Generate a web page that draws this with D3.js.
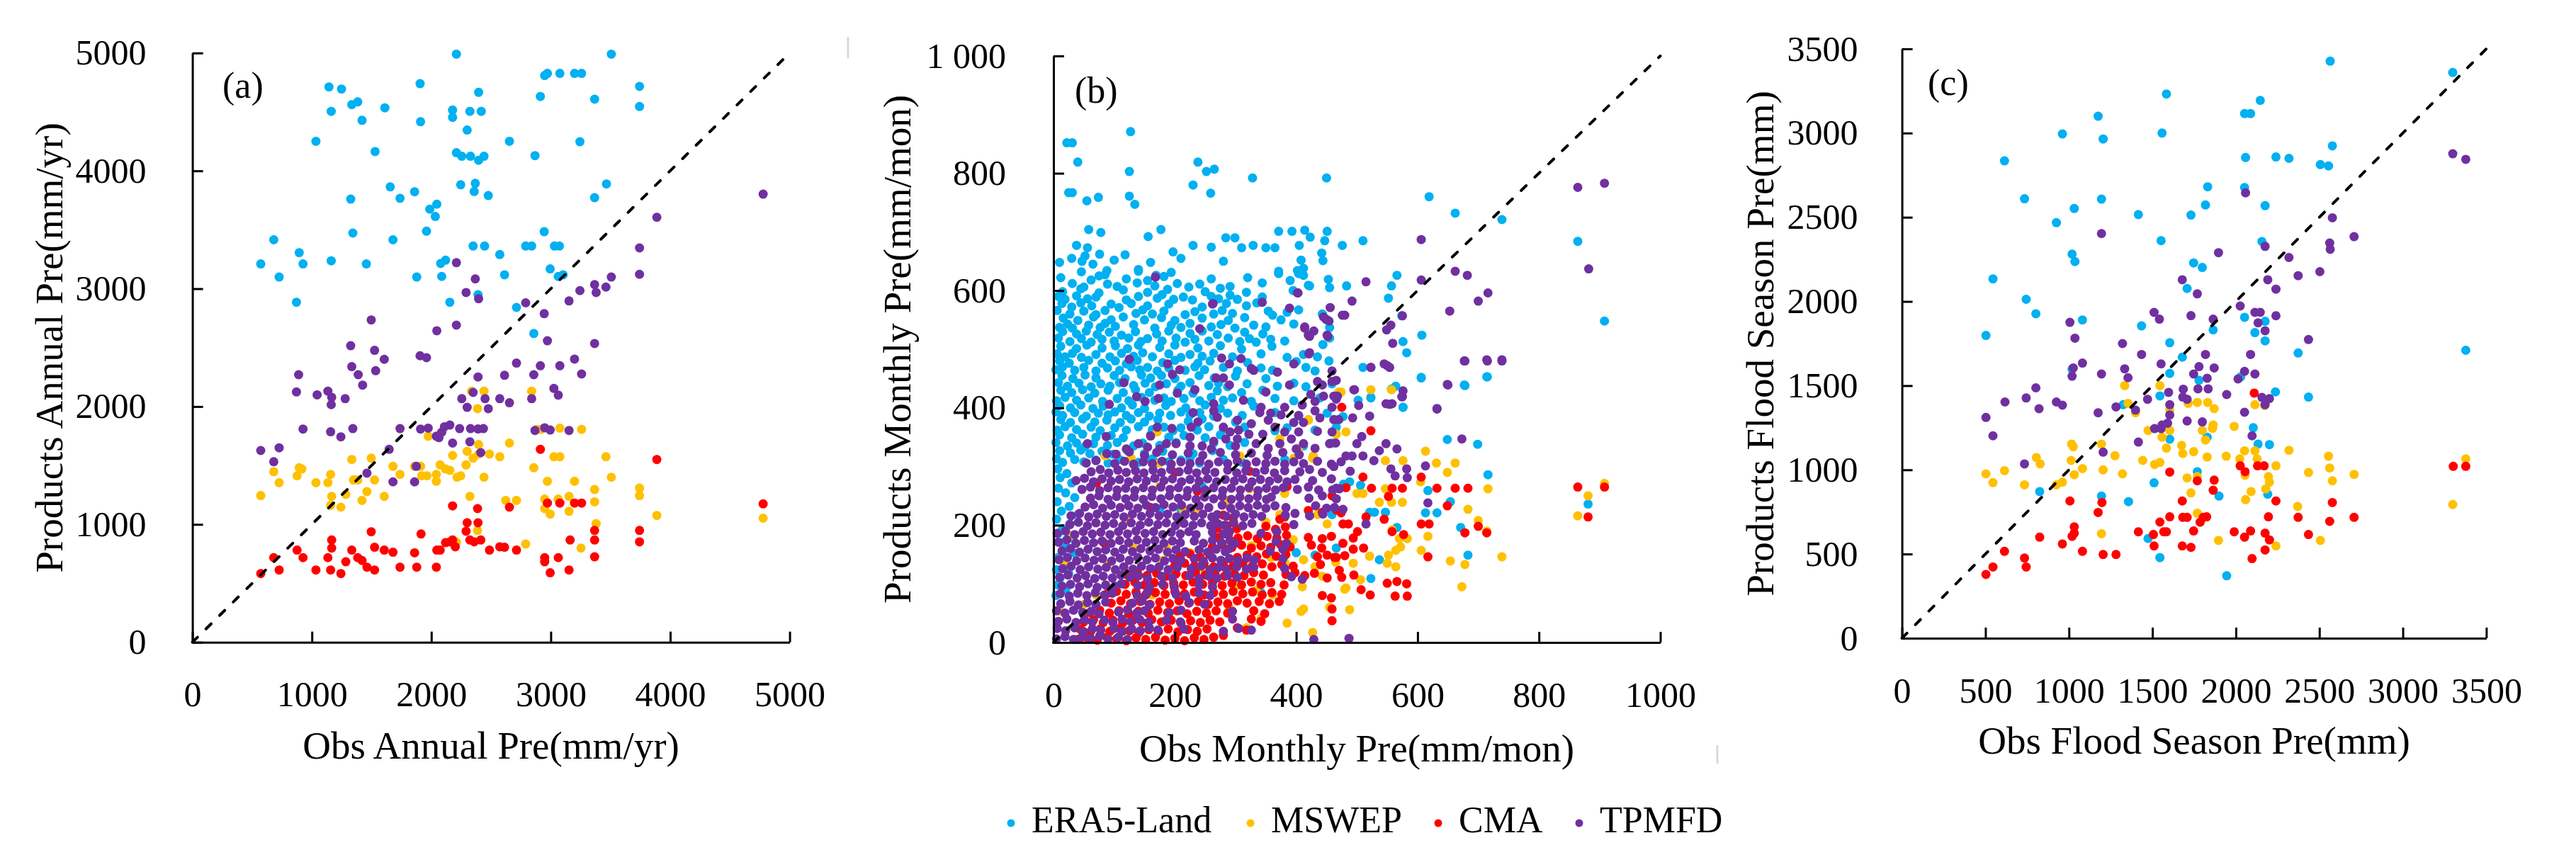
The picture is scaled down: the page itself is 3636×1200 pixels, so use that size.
<!DOCTYPE html>
<html><head><meta charset="utf-8">
<script src="https://cdn.jsdelivr.net/npm/d3@7"></script>
<style>
html,body{margin:0;padding:0;background:#fff;}
svg{display:block;}
text{font-family:"Liberation Serif","Times New Roman",serif;fill:#000;}
</style></head><body>
<svg id="chart" width="3636" height="1200"></svg>
<script>
// ---------- series names / colours ----------
const seriesNames = ["ERA5-Land","MSWEP","CMA","TPMFD"];
const seriesColors = ["#00B0F0","#FFC000","#FF0000","#7030A0"];

// ---------- tick labels ----------
const aTicks = [0,1000,2000,3000,4000,5000];
const bTicks = [0,200,400,600,800,1000];
const bYTickLabels = ["0","200","400","600","800","1 000"];
const bXTickLabels = ["0","200","400","600","800","1000"];
const cTicks = [0,500,1000,1500,2000,2500,3000,3500];

// ---------- panel (a): annual, [obs, product] ----------
const aERA5 = [[2210,4990],[3507,4990],[1143,4712],[1248,4694],[1906,4740],[2949,4809],[2972,4827],[3076,4827],[3199,4827],[3258,4827],[2396,4666],[2913,4631],[3743,4717],[3367,4608],[3743,4546],[1162,4505],[1334,4562],[1384,4585],[1611,4535],[2178,4516],[2178,4454],[2323,4505],[2418,4505],[1420,4429],[1910,4417],[2300,4346],[1034,4251],[2654,4251],[3244,4247],[1529,4164],[2210,4154],[2255,4124],[2328,4124],[2396,4090],[2441,4124],[2868,4129],[1656,3864],[2246,3882],[2368,3894],[2359,3825],[2477,3790],[1860,3823],[1738,3767],[1325,3760],[3466,3889],[3367,3772],[2046,3717],[1987,3675],[2033,3613],[1960,3488],[1343,3472],[2945,3484],[681,3415],[1679,3415],[2350,3362],[2446,3362],[2790,3362],[2840,3362],[3031,3362],[3072,3362],[894,3306],[2573,3290],[572,3210],[926,3210],[1162,3237],[1456,3210],[2078,3214],[2119,3242],[2995,3168],[726,3099],[1878,3099],[2087,3104],[2613,3118],[3063,3104],[3104,3118],[2391,2949],[871,2885],[2155,2885],[2713,2841],[2858,2620]];
const aMSWEP = [[2337,2131],[2441,2131],[2840,2131],[2387,1982],[572,1245],[681,1447],[726,1354],[876,1412],[894,1481],[916,1470],[1034,1354],[1134,1354],[1157,1424],[1166,1238],[1157,1162],[1243,1146],[1284,1255],[1334,1551],[1348,1377],[1384,1377],[1420,1204],[1461,1278],[1497,1562],[1525,1377],[1606,1238],[1679,1493],[1738,1424],[1860,1493],[1910,1493],[1919,1412],[1974,1748],[1964,1412],[2042,1424],[2042,1366],[2074,1505],[2119,1470],[2155,1458],[2178,1585],[2215,1400],[2246,1412],[2291,1505],[2300,1620],[2323,1238],[2350,1562],[2396,1678],[2387,949],[2396,1597],[2441,1400],[2487,1597],[2573,1574],[2654,1690],[2713,1204],[2623,1204],[2790,833],[2858,1481],[2881,1806],[2918,1806],[2949,1215],[2949,1134],[2995,1088],[2972,1366],[3026,1574],[3076,1574],[3063,1215],[3153,1238],[3153,1111],[3199,1366],[3076,1817],[3258,1806],[3253,799],[3367,1296],[3367,1192],[3380,1007],[3462,1574],[3507,1400],[3743,1308],[3743,1245],[3888,1076],[4778,1053],[2210,850]];
const aCMA = [[572,583],[681,718],[726,613],[876,782],[926,718],[1034,613],[1134,718],[1157,613],[1166,868],[1166,799],[1243,583],[1284,683],[1334,782],[1384,718],[1420,694],[1461,637],[1525,613],[1497,938],[1525,806],[1606,782],[1679,764],[1738,637],[1860,759],[1878,637],[1914,919],[2042,637],[2046,782],[2074,782],[2119,845],[2155,852],[2178,868],[2201,810],[2178,1157],[2291,942],[2300,1014],[2323,868],[2359,852],[2387,1134],[2391,1014],[2414,868],[2487,782],[2573,810],[2613,806],[2654,1146],[2713,782],[2913,1637],[2949,718],[2949,683],[2972,1181],[2995,590],[3063,718],[3076,1181],[3153,613],[3162,868],[3199,1181],[3258,1181],[3367,949],[3367,868],[3367,725],[3743,949],[3743,852],[3888,1551],[4778,1174]];
const aTPMFD = [[4778,3802],[3888,3606],[3743,3346],[3743,3122],[2210,3221],[2368,3083],[2396,2915],[2291,2968],[3244,2984],[3367,3035],[3380,2968],[3462,3014],[3507,3099],[3153,2896],[2790,2880],[2945,2788],[1497,2735],[2046,2643],[2210,2691],[2972,2558],[3367,2535],[1325,2516],[1525,2477],[1606,2401],[1906,2431],[1960,2415],[3199,2403],[889,2270],[1334,2339],[1388,2270],[1534,2304],[1425,2182],[2713,2369],[2913,2346],[3076,2346],[3258,2276],[2391,2251],[2613,2265],[2858,2270],[871,2124],[1044,2099],[1134,2131],[1162,2016],[1166,2078],[1279,2067],[2255,2067],[2350,2120],[2450,2067],[2300,1993],[2477,1982],[2573,2067],[2654,2032],[2840,2067],[3026,2154],[3063,2097],[926,1809],[1157,1786],[1343,1813],[1738,1813],[1910,1809],[2155,1843],[2237,1813],[2328,1813],[2436,1813],[2868,1797],[2949,1820],[3153,1797],[572,1627],[726,1650],[681,1532],[1243,1743],[1647,1637],[1461,1435],[1679,1361],[1860,1361],[1874,1493],[1974,1817],[2042,1748],[2064,1736],[2087,1782],[2110,1829],[2178,1690],[2323,1701],[2391,1810],[2414,1609],[2995,1801]];

// ---------- panel (b): monthly, flat lists obs,product,obs,product,... ----------
const bERA5 = [22,852,31,852,40,819,127,871,25,767,31,767,55,753,74,759,125,803,125,761,134,747,238,819,252,803,265,807,230,780,259,766,328,792,450,792,619,760,662,732,739,721,864,684,908,548,58,704,78,699,156,692,177,704,38,677,56,673,197,666,230,677,260,674,284,690,299,690,310,673,350,673,365,673,329,677,371,701,393,701,451,701,414,703,423,691,405,677,476,677,447,685,510,685,52,659,47,650,76,662,118,661,88,634,140,636,442,664,444,651,408,652,412,638,371,633,404,629,566,626,453,619,483,608,422,608,557,608,552,587,574,557,576,513,582,494,607,524,606,452,677,439,715,453,557,432,523,418,576,401,454,480,444,508,451,550,
46,632,85,627,140,633,169,626,194,631,371,629,402,634,412,626,
31,612,50,606,89,611,105,607,138,613,167,608,204,612,223,606,241,611,291,607,344,613,420,609,455,605,
8,590,19,585,38,591,56,586,70,589,120,584,140,590,171,587,179,593,198,585,214,589,229,584,260,590,272,586,291,592,303,585,344,589,
6,566,27,560,50,565,70,559,85,566,136,561,147,567,163,560,182,565,217,559,233,564,264,560,278,566,295,561,354,565,361,558,385,563,404,567,443,560,
10,537,23,543,31,536,58,541,77,537,85,544,102,539,132,542,167,536,194,541,210,537,225,544,260,538,276,542,299,536,330,541,350,538,396,543,455,537,
8,519,27,513,46,518,62,512,80,517,100,514,124,519,144,513,155,518,179,514,202,519,217,512,233,517,256,514,288,519,307,513,323,518,334,512,358,517,381,514,455,519,
6,492,19,487,31,493,46,486,70,491,93,487,112,493,132,488,147,494,163,487,190,492,210,486,225,491,245,488,264,493,295,487,342,492,385,486,412,491,435,487,
4,465,15,470,35,464,50,469,70,463,89,468,109,464,128,470,142,465,155,469,171,463,190,468,217,464,233,470,249,465,280,469,303,463,342,468,361,464,416,469,431,463,
8,443,23,437,42,442,62,436,78,441,93,437,109,443,132,438,151,442,168,436,186,441,210,437,225,443,256,438,272,442,287,436,319,441,369,437,396,442,416,436,459,441,
5,412,19,418,38,413,58,417,81,411,105,416,124,412,145,418,167,413,182,417,194,411,215,416,241,412,260,418,280,413,295,417,326,411,365,416,396,412,439,417,
4,393,15,387,35,392,54,386,74,391,90,388,101,393,120,387,140,392,158,386,175,391,193,387,210,393,225,388,241,392,264,386,287,391,311,387,365,392,404,386,451,391,
6,362,19,368,38,363,62,367,77,361,101,366,120,362,140,368,163,363,182,367,197,361,210,366,237,362,256,368,280,363,315,367,365,361,385,366,431,362,466,367,
4,341,23,335,38,340,52,334,66,339,89,336,105,341,132,335,147,340,175,336,202,341,225,335,264,340,291,336,315,341,412,335,459,340,
5,313,15,307,35,312,50,308,70,311,90,306,109,312,140,307,163,313,190,308,210,311,241,306,280,312,311,307,381,312,
10,648,30,655,65,645,100,652,160,648,210,655,280,650,
12,622,62,618,75,625,120,620,155,617,182,624,260,620,320,622,390,617,
15,598,45,603,75,596,115,601,155,597,188,602,250,598,275,604,318,597,395,600,
14,578,30,572,45,579,63,574,95,577,108,571,128,578,155,574,190,577,245,572,285,578,318,574,335,579,
16,553,40,549,66,555,95,550,115,555,150,550,178,554,200,549,245,553,288,549,315,554,375,550,
15,530,38,526,54,531,72,525,92,529,112,524,135,530,170,526,190,531,225,527,245,531,270,525,315,529,345,526,
12,505,38,501,55,507,80,502,102,506,122,501,140,507,175,503,200,507,238,502,275,506,310,500,360,505,
10,480,26,476,58,481,80,476,102,480,120,475,138,481,180,477,200,481,238,476,258,480,320,477,400,479,
14,455,32,450,52,456,70,451,100,455,118,450,145,456,160,451,178,455,200,450,240,455,265,451,300,454,350,450,
12,430,30,426,48,431,68,425,90,430,115,426,135,431,158,426,205,430,230,425,270,429,310,426,345,430,
10,404,28,400,45,405,65,399,82,403,112,400,130,405,150,399,185,404,218,400,250,405,275,399,330,403,
12,380,28,375,48,381,68,376,88,379,110,375,128,381,150,376,172,380,222,377,245,381,300,376,
10,354,30,349,48,355,70,350,95,353,115,349,160,354,190,350,215,353,250,349,275,354,
10,327,28,323,45,328,60,322,80,326,98,321,122,327,150,322,180,326,230,322,262,327,
7,296,22,288,11,281,30,272,8,263,20,255,35,247,6,240,26,232,13,224,40,218,5,210,27,202,15,194,8,186,32,178,12,170,22,161,35,152,8,145,18,135,5,124,25,118,11,110,7,98,20,90,4,80,
151,314,225,314,171,306,245,266,210,226,175,226,431,149,342,85,400,153,478,270,466,161,
510,469,523,417,564,437,576,401,606,451,649,346,699,338,678,438,714,453,716,286,617,259,654,240,613,221,632,221,671,196,683,149,881,236,521,222,529,222,547,222,566,196,537,141,523,109,477,385,488,274,502,413,506,268,459,218];
const bMSWEP = [85,318,27,182,19,133,11,53,427,17,408,53,482,93,396,314,427,314,323,262,373,218,381,254,435,218,451,202,326,165,358,145,381,137,412,141,431,129,443,113,303,97,334,89,361,81,412,57,385,33,342,41,318,25,225,153,241,137,186,161,272,202,287,242,233,222,120,210,175,266,214,226,132,161,89,133,70,81,50,65,163,81,128,314,175,306,420,379,470,427,466,355,404,331,428,318,171,359,307,318,373,347,523,431,557,431,474,427,420,380,613,326,631,306,662,306,649,290,716,262,547,310,576,310,500,254,510,254,547,262,537,239,557,239,575,239,683,227,700,208,714,190,605,274,617,181,558,192,570,177,583,177,552,149,564,157,572,163,606,157,654,139,678,133,739,146,673,95,521,147,550,135,564,129,480,91,488,56,506,107,494,135,465,137,482,359,908,271,881,250,864,216,300,130,350,205,395,175,290,60,410,95,455,60,250,120,180,140];
const bCMA = [40,5,56,8,72,4,88,9,104,6,120,3,136,8,152,5,168,9,184,4,200,7,216,3,232,8,248,5,264,9,280,12,
45,22,61,18,77,23,93,19,109,24,125,20,141,17,157,22,173,19,189,23,205,18,221,22,237,19,253,23,303,25,318,21,
50,35,66,39,82,34,98,38,114,33,130,37,146,34,162,39,178,35,194,38,210,33,226,37,242,34,258,38,274,35,326,40,342,36,
60,51,76,55,92,50,108,54,124,49,140,53,156,50,172,55,188,51,204,54,220,49,236,53,252,50,268,54,287,50,330,54,348,49,
95,67,111,71,127,66,143,70,159,65,175,69,191,66,207,71,223,67,239,70,255,65,271,69,287,66,303,71,319,67,339,70,356,66,372,70,
88,83,104,87,120,82,136,86,152,81,168,85,184,82,200,87,216,83,232,86,248,81,264,85,280,82,296,87,312,83,328,86,344,81,360,85,376,82,443,80,458,76,
118,99,134,103,150,98,166,102,182,97,198,101,214,98,230,103,246,99,262,102,278,97,294,101,310,98,326,103,342,99,358,102,380,98,
122,115,138,119,154,114,170,118,186,113,202,117,218,114,234,119,250,115,266,118,282,113,298,117,314,114,330,119,346,115,383,116,398,119,414,114,430,118,451,110,
200,131,216,135,232,130,248,134,264,129,280,133,296,130,312,135,328,131,344,134,360,129,376,133,395,130,440,133,
209,147,225,151,241,146,257,150,303,145,319,149,335,146,351,151,367,147,383,150,435,146,451,149,466,145,480,148,
262,163,278,167,294,162,310,166,326,161,342,165,358,162,374,167,390,163,425,166,442,161,
272,179,288,183,304,178,320,182,336,177,352,181,368,178,384,183,420,179,443,177,458,181,
270,195,286,199,302,194,350,198,366,193,382,197,
264,213,280,217,296,212,373,210,381,214,420,225,443,222,466,226,474,221,
71,272,323,292,385,266,459,250,83,170,237,258,200,290,160,230,
523,361,510,282,524,263,558,263,575,263,552,249,606,282,632,263,662,263,683,263,649,233,515,214,545,210,477,202,486,202,606,202,619,202,700,198,714,187,678,187,558,189,577,184,501,189,494,178,477,169,511,161,494,159,617,146,463,145,471,123,475,111,495,115,507,90,522,81,550,101,566,104,582,100,563,79,583,79,459,57,459,37,475,401,482,264,864,265,908,265,881,214];
const bTPMFD = [864,776,908,783,882,637,606,687,662,633,682,626,716,596,700,582,653,565,515,615,492,582,403,596,344,580,263,578,389,570,456,571,480,558,168,623,449,551,452,522,575,557,556,541,606,618,549,533,414,536,422,522,429,531,241,535,559,510,421,492,677,480,715,480,739,480,523,469,550,472,650,439,125,483,309,484,277,485,330,464,632,398,554,406,574,419,496,431,
402,596,262,577,445,555,454,548,476,558,414,538,420,524,451,524,422,494,290,475,396,475,188,475,326,467,369,461,196,457,208,465,116,443,175,439,290,439,389,439,443,439,233,431,268,451,280,451,435,445,459,445,459,463,204,425,137,419,151,411,173,416,313,413,350,427,424,423,431,411,466,415,92,406,264,407,264,395,230,392,342,401,381,401,459,401,358,391,404,387,431,395,303,379,354,379,326,373,365,367,171,367,227,367,280,367,396,375,412,375,439,383,291,359,381,359,404,359,459,359,56,339,140,339,186,339,202,339,334,339,373,339,412,339,455,339,87,351,155,333,225,335,245,335,264,343,284,347,303,347,392,347,322,355,354,331,431,331,
160,352,195,365,238,376,270,384,305,362,340,392,375,388,410,405,445,420,225,350,300,335,345,355,120,330,88,322,175,330,260,330,400,330,435,360,470,380,468,420,
5,6,19,10,33,5,47,9,61,7,76,11,90,6,107,9,122,5,429,5,
6,24,20,20,35,25,49,19,64,23,78,21,100,24,114,19,129,23,143,20,158,25,172,21,215,23,280,19,305,24,326,21,
8,36,22,40,37,34,51,39,64,35,84,38,98,34,113,40,127,36,142,39,157,35,186,38,209,35,295,40,
5,54,19,50,33,55,48,51,62,53,75,49,107,52,122,56,137,50,150,54,191,51,210,55,295,53,
12,66,27,70,41,64,56,68,70,65,86,69,130,67,146,71,158,64,224,68,249,65,
11,83,26,79,40,84,55,80,69,85,84,81,97,84,138,80,154,84,202,82,218,79,240,84,258,80,
14,96,28,99,43,95,57,100,72,94,86,98,101,96,112,100,139,97,158,94,180,99,199,95,240,98,262,95,
10,111,24,115,39,110,53,114,68,109,82,113,97,110,111,115,126,111,140,114,155,109,178,113,196,110,224,114,240,109,256,113,270,110,287,114,303,111,392,112,410,108,
15,126,29,130,44,124,58,129,73,125,87,128,102,124,116,129,131,125,145,130,160,126,174,129,189,124,204,128,227,126,243,130,258,124,272,128,285,125,302,129,318,125,330,128,381,126,
9,141,23,145,38,139,52,144,67,140,81,143,96,139,110,144,125,140,139,145,154,141,168,144,183,139,197,143,210,140,232,143,247,139,262,144,276,140,290,143,304,140,319,144,331,141,378,143,
14,156,28,160,43,154,57,159,72,155,86,158,101,154,115,159,130,155,144,160,159,156,173,159,188,154,202,158,217,155,240,158,254,154,268,159,283,155,290,160,357,156,378,159,
8,171,22,175,37,169,51,174,66,170,80,173,95,169,109,174,124,170,138,175,153,171,167,174,182,169,196,173,209,170,232,173,247,169,262,174,277,170,291,174,299,169,367,172,384,169,
6,186,20,190,35,184,49,189,64,185,78,188,93,184,107,189,122,185,136,190,151,186,165,189,180,184,194,188,209,185,223,189,235,184,262,188,280,185,290,189,342,186,368,189,
27,201,41,205,56,199,70,204,85,200,99,203,114,199,128,204,143,200,157,205,172,201,186,204,201,199,215,203,230,200,244,204,259,199,270,203,282,200,297,204,312,199,327,203,396,201,
29,216,43,220,58,214,72,219,87,215,101,218,116,214,130,219,145,215,159,220,174,216,188,219,203,214,217,218,232,215,246,219,261,214,270,218,285,215,300,219,314,214,329,218,343,215,382,217,398,220,422,216,444,219,
52,231,66,235,81,229,95,234,110,230,124,233,139,229,153,234,168,230,182,235,197,231,211,234,226,229,240,233,256,230,278,234,292,229,307,233,321,230,336,234,350,229,365,233,383,230,432,233,450,229,
61,246,75,250,90,244,104,249,119,245,133,248,148,244,162,249,177,245,191,250,206,246,220,249,235,244,249,248,264,245,278,249,293,244,307,248,322,245,336,249,351,244,359,248,421,246,443,250,466,245,
47,261,61,265,76,259,90,264,105,260,119,263,134,259,148,264,163,260,177,265,192,261,206,264,221,259,235,263,250,260,264,264,279,259,293,263,308,260,322,264,337,259,351,263,366,260,379,264,402,261,420,265,437,260,466,263,
37,276,51,280,66,274,80,279,95,275,109,278,124,274,138,279,153,275,167,280,182,276,196,279,211,274,225,278,240,275,254,279,269,274,283,278,298,275,312,279,327,274,341,278,356,275,370,279,385,274,398,278,427,276,458,279,
62,291,77,295,91,289,106,294,120,290,135,293,149,289,164,294,178,290,193,295,207,291,222,294,236,289,251,293,266,290,287,294,302,289,317,293,333,290,348,294,364,289,381,293,406,291,422,295,443,290,
54,306,70,310,101,305,117,309,132,304,148,308,163,305,179,309,194,304,210,308,225,305,241,309,256,304,272,308,287,305,303,309,318,304,334,308,350,305,365,309,381,304,396,308,412,305,435,309,458,304,474,308,
103,321,125,325,150,319,170,324,196,320,222,323,246,319,275,324,300,320,326,323,352,319,378,324,405,320,
523,469,545,475,554,469,678,480,714,482,739,482,649,440,632,399,673,347,495,431,576,429,575,419,548,407,558,407,503,404,521,386,493,383,508,351,500,339,548,339,537,327,566,330,482,318,492,318,510,318,528,310,556,296,582,296,563,284,583,281,489,292,613,301,617,238,515,202,471,262,477,227,466,447,487,7,462,420,462,380,465,340,462,300,460,260,463,230];

// ---------- panel (c): flood season, [obs, product] ----------
const cERA5 = [[2565,3427],[3299,3360],[1584,3232],[2146,3194],[2052,3116],[2088,3116],[1175,3100],[961,2995],[1558,3000],[1205,2965],[2578,2924],[614,2835],[2058,2855],[2240,2858],[2318,2850],[2506,2813],[2555,2805],[1831,2681],[2052,2677],[734,2610],[1195,2608],[2175,2569],[1818,2573],[1032,2552],[1416,2516],[1731,2513],[925,2468],[1552,2361],[2156,2356],[1019,2281],[1036,2237],[1747,2229],[1799,2202],[545,2134],[1708,2077],[744,2013],[802,1927],[2052,1906],[2175,1882],[1081,1890],[1435,1855],[503,1798],[1864,1831],[2114,1815],[2175,1766],[1604,1755],[2373,1694],[3377,1710],[1679,1669],[1019,1597],[1604,1573],[1779,1532],[2029,1552],[2237,1463],[2435,1432],[1545,1439],[1325,1387],[2104,1250],[2133,1153],[2201,1150],[1604,1182],[1828,1194],[1769,989],[1510,923],[825,871],[1195,844],[1357,811],[1899,844],[2191,855],[1474,592],[1545,479],[1945,371]];
const cMSWEP = [[1334,1500],[1545,1500],[1354,1395],[1399,1339],[1714,1395],[1769,1400],[1831,1400],[1870,1363],[2114,1387],[2172,1382],[1604,1355],[1864,1266],[1990,1258],[1860,1247],[1474,1234],[1604,1234],[1558,1194],[1016,1153],[1026,1137],[1195,1153],[1276,1084],[805,1073],[828,1035],[503,976],[545,924],[614,995],[734,911],[925,911],[961,927],[1013,1056],[1032,971],[1081,1008],[1205,1000],[1321,976],[1442,1056],[1513,1032],[1545,1044],[1584,1129],[1675,1145],[1682,1097],[1747,1108],[1799,1234],[1818,1177],[1828,1076],[1708,952],[1731,863],[1769,960],[1942,1081],[2023,1065],[2052,1113],[2114,1113],[2055,968],[2058,823],[2091,871],[2127,1065],[2179,887],[2195,960],[2201,927],[2240,1024],[2318,1116],[2370,782],[2435,984],[2555,1081],[2562,1011],[2578,935],[2708,973],[2506,581],[2240,548],[1896,581],[1769,742],[1195,621],[3299,794],[3377,1065]];
const cCMA = [[2110,1456],[3302,1021],[3377,1021],[2026,1024],[2055,989],[2130,1024],[2169,1024],[1604,987],[1769,935],[1870,939],[1864,879],[1006,815],[1198,806],[1679,815],[2240,815],[2578,806],[1175,747],[1604,721],[1682,718],[1708,718],[1805,718],[1825,721],[1786,689],[1545,690],[2195,721],[2373,718],[2708,718],[2562,694],[1032,661],[1019,605],[1032,624],[1416,632],[1506,616],[1568,632],[1584,632],[1747,637],[1990,632],[2088,637],[2052,600],[2175,624],[2201,584],[2435,616],[825,600],[961,560],[1510,548],[1679,548],[1731,540],[1081,516],[1205,497],[1282,497],[2175,524],[614,516],[2097,473],[734,476],[744,423],[545,423],[503,379]];
const cTPMFD = [[3299,2877],[3377,2844],[2058,2645],[2578,2497],[1195,2403],[2708,2385],[2175,2327],[2562,2347],[2565,2310],[1896,2290],[2318,2261],[2503,2177],[2373,2153],[1679,2129],[2191,2129],[1769,2045],[2240,2073],[2026,1973],[2114,1935],[2146,1935],[2240,1915],[1510,1935],[1542,1895],[1731,1916],[1864,1895],[1006,1876],[2133,1873],[2175,1826],[1036,1782],[2435,1774],[1321,1750],[1435,1685],[1818,1685],[2088,1685],[1552,1629],[1081,1634],[1026,1605],[1019,1556],[1334,1600],[1779,1613],[1870,1605],[1195,1569],[1354,1547],[1747,1569],[1828,1544],[2052,1585],[2114,1569],[2013,1540],[802,1487],[1685,1479],[1773,1481],[1834,1481],[1597,1460],[1682,1432],[1945,1447],[744,1427],[617,1403],[925,1403],[961,1384],[1471,1419],[1604,1387],[1708,1419],[2156,1430],[2201,1423],[2175,1387],[1282,1374],[821,1363],[1399,1355],[1175,1339],[2052,1342],[503,1311],[1604,1326],[1591,1277],[1513,1245],[1552,1245],[1708,1290],[1799,1285],[545,1202],[734,1035],[1205,1105],[1416,1165],[1558,1266],[2097,1202]];

// ---------- helpers ----------
function pairs(flat){ const out=[]; for(let i=0;i+1<flat.length;i+=2) out.push([flat[i],flat[i+1]]); return out; }

const svg = d3.select("#chart");

const panels = [
  {label:"(a)", max:5000, xTicks:aTicks, yTicks:aTicks, xFmt:d=>String(d), yFmt:d=>String(d),
   xr:[271.6,1114.6], yr:[906.7,74.8], yPad:65,
   xTitle:"Obs Annual Pre(mm/yr)", yTitle:"Products Annual Pre(mm/yr)",
   xTitlePos:[693,1071], yTitlePos:[88,491], labelPos:[314,138],
   series:[aERA5,aMSWEP,aCMA,aTPMFD]},
  {label:"(b)", max:1000, xTicks:bTicks, yTicks:bTicks, xFmt:(d,i)=>bXTickLabels[i], yFmt:(d,i)=>bYTickLabels[i],
   xr:[1487,2343.5], yr:[907,79], yPad:67,
   xTitle:"Obs Monthly Pre(mm/mon)", yTitle:"Products Monthly Pre(mm/mon)",
   xTitlePos:[1915,1075], yTitlePos:[1285,493], labelPos:[1517,145],
   series:[pairs(bERA5),pairs(bMSWEP),pairs(bCMA),pairs(bTPMFD)]},
  {label:"(c)", max:3500, xTicks:cTicks, yTicks:cTicks, xFmt:d=>String(d), yFmt:d=>String(d),
   xr:[2684.6,3509.4], yr:[901,69], yPad:62,
   xTitle:"Obs Flood Season Pre(mm)", yTitle:"Products Flood Season Pre(mm)",
   xTitlePos:[3097,1064], yTitlePos:[2503,485], labelPos:[2721,134],
   series:[cERA5,cMSWEP,cCMA,cTPMFD]}
];

panels.forEach(p=>{
  const x = d3.scaleLinear().domain([0,p.max]).range(p.xr);
  const y = d3.scaleLinear().domain([0,p.max]).range(p.yr);
  const g = svg.append("g");

  p.series.forEach((pts,si)=>{
    g.append("g").selectAll("circle").data(pts).join("circle")
      .attr("cx",d=>x(d[0])).attr("cy",d=>y(d[1])).attr("r",6.5)
      .attr("fill",seriesColors[si]);
  });

  g.append("line")
    .attr("x1",x(0)).attr("y1",y(0)).attr("x2",x(p.max)).attr("y2",y(p.max))
    .attr("stroke","#000").attr("stroke-width",4).attr("stroke-linecap","round")
    .attr("stroke-dasharray","10,17");

  const gx = g.append("g").attr("transform",`translate(0,${y(0)})`)
    .call(d3.axisBottom(x).tickValues(p.xTicks).tickFormat(p.xFmt)
      .tickSizeInner(-15).tickSizeOuter(0).tickPadding(55));
  const gy = g.append("g").attr("transform",`translate(${x(0)},0)`)
    .call(d3.axisLeft(y).tickValues(p.yTicks).tickFormat(p.yFmt)
      .tickSizeInner(-15).tickSizeOuter(0).tickPadding(p.yPad));
  [gx,gy].forEach(ax=>{
    ax.select(".domain").attr("stroke","#000").attr("stroke-width",3);
    ax.selectAll(".tick line").attr("stroke","#000").attr("stroke-width",3);
    ax.selectAll(".tick text").attr("font-size",50)
      .attr("font-family","Liberation Serif").attr("fill","#000");
  });

  g.append("text").attr("x",p.xTitlePos[0]).attr("y",p.xTitlePos[1])
    .attr("text-anchor","middle").attr("font-size",55).text(p.xTitle);
  g.append("text").attr("transform",`translate(${p.yTitlePos[0]},${p.yTitlePos[1]}) rotate(-90)`)
    .attr("text-anchor","middle").attr("font-size",55).text(p.yTitle);
  g.append("text").attr("x",p.labelPos[0]).attr("y",p.labelPos[1])
    .attr("font-size",52).text(p.label);
});

// legend
const legendX = [1427,1765,2030,2229];
const lg = svg.append("g");
seriesNames.forEach((n,i)=>{
  lg.append("circle").attr("cx",legendX[i]).attr("cy",1162).attr("r",5.5).attr("fill",seriesColors[i]);
  lg.append("text").attr("x",legendX[i]+29).attr("y",1175).attr("font-size",52).text(n);
});

// faint crop marks present in the source image
svg.append("line").attr("x1",1197).attr("x2",1197).attr("y1",52).attr("y2",82)
  .attr("stroke","#d9d9d9").attr("stroke-width",3);
svg.append("line").attr("x1",2424).attr("x2",2424).attr("y1",1052).attr("y2",1078)
  .attr("stroke","#d9d9d9").attr("stroke-width",3);
</script>
</body></html>
